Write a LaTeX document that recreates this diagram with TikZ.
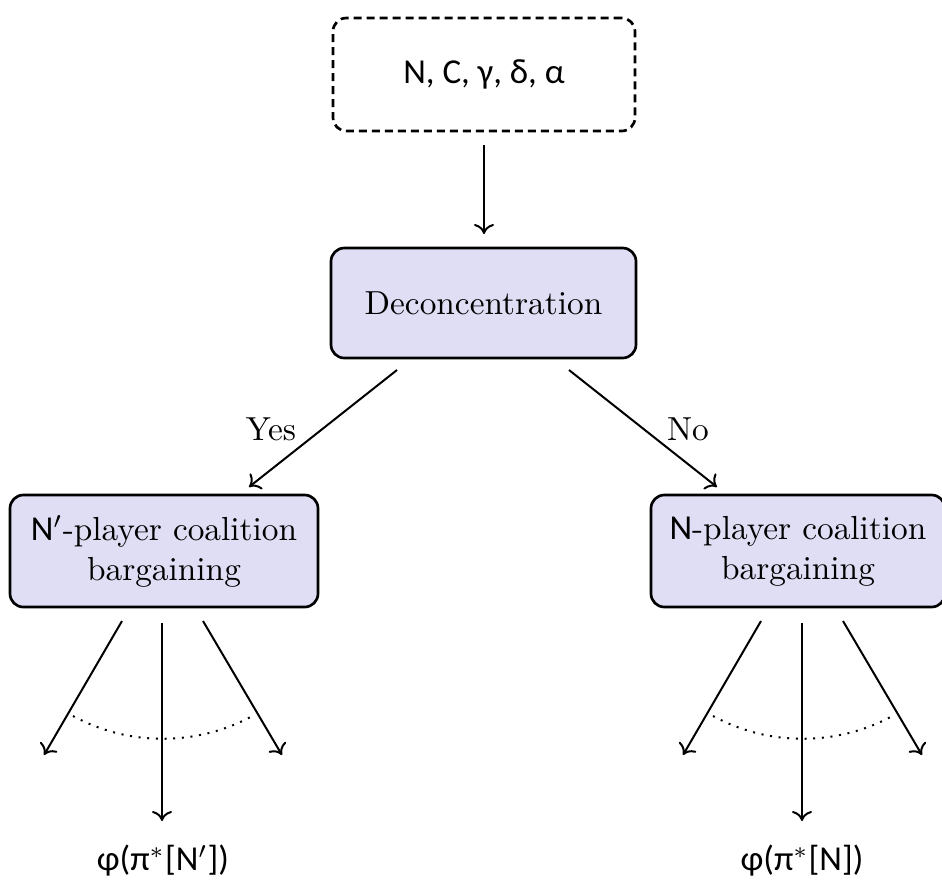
\documentclass[tikz,border=0pt]{standalone}
\usepackage{fontspec}
\newfontfamily\carl{Carlito}[Scale=1.05]
\usetikzlibrary{arrows.meta}
\definecolor{boxfill}{RGB}{224,222,244}
\tikzset{
  proc/.style={draw=black, line width=0.8pt, rounded corners=4pt, fill=boxfill, align=center, inner sep=0pt},
  inbox/.style={draw=black, line width=0.8pt, rounded corners=4pt, dash pattern=on 2.4pt off 1.5pt, align=center, inner sep=0pt},
  conn/.style={line width=0.6pt, -{To[length=3pt,width=6pt]}},
  plainline/.style={line width=0.6pt},
  lbl/.style={inner sep=0pt},
}
\begin{document}
\begin{tikzpicture}[x=0.3pt,y=-0.3pt]
\useasboundingbox (0,0) rectangle (942,881);
% boxes
\node[inbox, minimum width=90.6pt, minimum height=33.9pt] (params) at (484,74.5) {\carl N, C, γ, δ, α};
\node[proc, minimum width=91.5pt, minimum height=33pt] (dec) at (483.5,303) {Deconcentration};
\node[proc, minimum width=92.4pt, minimum height=33.6pt] (left) at (164,551) {{\carl N}$'$-player coalition\\bargaining};
\node[proc, minimum width=88.2pt, minimum height=33.6pt] (right) at (798,551) {{\carl N}-player coalition\\bargaining};
% top arrow
\coordinate (p1) at (484,145);
\coordinate (p2) at (484,234);
\draw[conn] (p1) -- (p2);
% yes / no
\coordinate (y1) at (397,370);
\coordinate (y2) at (249,487);
\coordinate (n1) at (569,370);
\coordinate (n2) at (717,487);
\draw[conn] (y1) -- (y2);
\draw[conn] (n1) -- (n2);
\node[lbl] (yes) at (271,429) {Yes};
\node[lbl] (no) at (688,429) {No};
% left fan
\coordinate (la1) at (122,621);
\coordinate (la2) at (44,755);
\coordinate (lb1) at (162,623);
\coordinate (lb2) at (162,821);
\coordinate (lc1) at (203,621);
\coordinate (lc2) at (282,755);
\draw[conn] (la1) -- (la2);
\draw[conn] (lb1) -- (lb2);
\draw[conn] (lc1) -- (lc2);
\draw[line width=0.6pt, dotted] (73,716) arc[start angle=241.5, end angle=298.5, radius=56.4pt];
\node[lbl] (lres) at (163,861) {\carl φ(π$^{*}$[N$'$])};
% right fan
\coordinate (ra1) at (761,621);
\coordinate (ra2) at (683,755);
\coordinate (rb1) at (802,623);
\coordinate (rb2) at (802,821);
\coordinate (rc1) at (843,621);
\coordinate (rc2) at (922,755);
\draw[conn] (ra1) -- (ra2);
\draw[conn] (rb1) -- (rb2);
\draw[conn] (rc1) -- (rc2);
\draw[line width=0.6pt, dotted] (713,716) arc[start angle=241.5, end angle=298.5, radius=56.4pt];
\node[lbl] (rres) at (802,861) {\carl φ(π$^{*}$[N])};
\end{tikzpicture}
\end{document}
